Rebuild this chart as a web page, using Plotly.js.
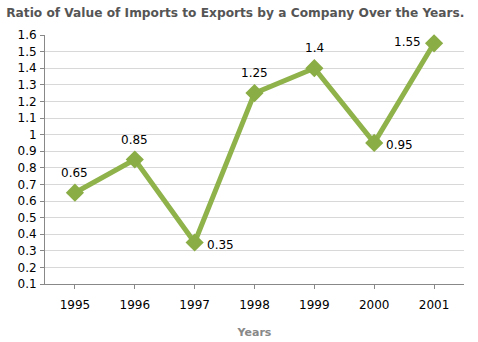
<!DOCTYPE html>
<html><head><meta charset="utf-8">
<script src="https://cdn.plot.ly/plotly-3.0.1.min.js"></script>
<style>html,body{margin:0;padding:0;background:#fff}#c{width:478px;height:342px}</style>
</head><body><div id="c"></div>
<script>
const years = ['1995','1996','1997','1998','1999','2000','2001'];
const ratios = [0.65, 0.85, 0.35, 1.25, 1.4, 0.95, 1.55];
const labelSide = ['top','top','right','top','top','right','left'];

const font = 'DejaVu Sans, Verdana, sans-serif';
const green = '#8fb24b';
const trace = {
  x: years, y: ratios, type: 'scatter', mode: 'lines+markers',
  line: {color: green, width: 5},
  marker: {symbol: 'diamond', size: 14, color: '#8aad45'},
  cliponaxis: false, hoverinfo: 'none'
};
const annotations = years.map((yr, i) => {
  const s = labelSide[i];
  const a = {x: i, y: ratios[i], xref: 'x', yref: 'y', text: String(ratios[i]), showarrow: false,
    font: {family: font, size: 12, color: '#000'}};
  if (s === 'top') { a.xanchor = 'center'; a.yanchor = 'middle'; a.yshift = 20; }
  else if (s === 'right') { a.xanchor = 'left'; a.yanchor = 'middle'; a.xshift = 10; a.yshift = -2; }
  else { a.xanchor = 'right'; a.yanchor = 'middle'; a.xshift = -11; a.yshift = 1; }
  return a;
});
const layout = {
  width: 478, height: 342,
  margin: {l: 45, r: 14, t: 35, b: 58},
  paper_bgcolor: '#fff', plot_bgcolor: '#fff',
  showlegend: false,
  annotations: annotations,
  title: {text: 'Ratio of Value of Imports to Exports by a Company Over the Years.',
    font: {family: font, size: 12.2, color: '#555', weight: 'bold'},
    x: 0.013, xanchor: 'left', y: 0.962, yanchor: 'middle'},
  xaxis: {type: 'category', range: [-0.5, 6.5], showgrid: false, zeroline: false,
    showline: true, linecolor: '#888', linewidth: 1, ticks: 'outside', ticklen: 4, tickcolor: '#888',
    ticklabelstandoff: 6,
    tickfont: {family: font, size: 12, color: '#000'},
    title: {text: 'Years', font: {family: font, size: 11, color: '#888', weight: 'bold'}, standoff: 16}},
  yaxis: {range: [0.1, 1.6], dtick: 0.1, tick0: 0.1, showgrid: true, gridcolor: '#d8d8d8', zeroline: false,
    showline: true, linecolor: '#888', linewidth: 1, ticks: 'outside', ticklen: 4, tickcolor: '#888',
    ticklabelstandoff: 1,
    tickfont: {family: font, size: 12, color: '#000'}}
};
Plotly.newPlot('c', [trace], layout, {staticPlot: true, displayModeBar: false});
</script></body></html>
